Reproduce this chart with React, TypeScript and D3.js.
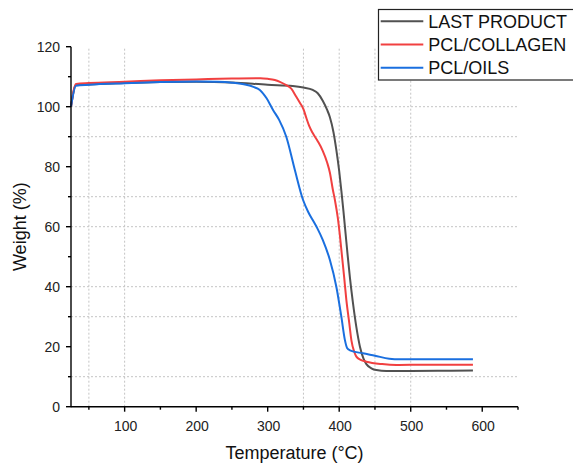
import React from "react";
import * as d3 from "d3";

const seriesNames = ["LAST PRODUCT", "PCL/COLLAGEN", "PCL/OILS"];
const seriesColors = ["#515151", "#F14040", "#1A6FDF"];

// [temperature, weight]
const lastProduct: [number, number][] = [
  [25, 100], [32, 107.2], [50, 107.4], [100, 107.9], [150, 108.2], [200, 108.3], [250, 108.1],
  [300, 107.3], [335, 106.9], [350, 106.4], [363, 105.6], [370, 104.5], [377, 102], [383, 99],
  [387, 96.5], [392, 91.5], [396, 85.6], [400, 78.5], [403, 72], [406, 65], [409, 57.5], [412, 50],
  [415, 43], [419, 35], [424, 26.5], [429, 20], [434, 16], [438, 14.2], [445, 12.8],
  [452, 12.2], [466, 11.9], [500, 11.9], [550, 12], [587, 12.1],
];
const pclCollagen: [number, number][] = [
  [25, 100], [32, 107.6], [50, 107.9], [100, 108.3], [150, 108.8], [200, 109.1], [250, 109.4],
  [290, 109.5], [300, 109.3], [310, 108.9], [317, 108.3], [326, 107.2], [333, 106], [340, 103.3],
  [345, 101.3], [350, 99.2], [354, 96.3], [358, 93.6], [363, 91.2], [370, 88.5], [377, 85.3],
  [383, 81.5], [387, 78], [391, 72.5], [394, 68.9], [398, 63], [401, 57], [404, 50], [407, 43],
  [410, 35.6], [414, 28], [417, 22.2], [421, 18.3], [424, 16.7], [430, 15.6], [438, 15],
  [460, 14.2], [480, 13.9], [520, 14], [587, 14],
];
const pclOils: [number, number][] = [
  [25, 100], [32, 107], [50, 107.3], [100, 107.8], [150, 108.2], [200, 108.4], [230, 108.3],
  [250, 108], [270, 107.3], [280, 106.6], [289, 105.6], [298.5, 102.8], [307.5, 98.9],
  [316, 95.6], [326, 90], [338, 78.9], [349.5, 68.9], [356.5, 65], [363, 62.2], [370, 59.2],
  [377, 55.6], [387, 48.9], [396, 40], [403, 30], [408, 22.2], [411, 19.6], [415, 18.8],
  [433, 17.8], [450, 17], [470, 16], [485, 15.8], [587, 15.8],
];
const seriesData = [lastProduct, pclCollagen, pclOils];

const xMajorTicks = [100, 200, 300, 400, 500, 600];
const xMinorTicks = [50, 150, 250, 350, 450, 550, 650];
const yMajorTicks = [0, 20, 40, 60, 80, 100, 120];
const yMinorTicks = [10, 30, 50, 70, 90, 110];
const xGrid = [50, 100, 350, 400, 450, 500];
const yGrid = [10, 30, 40, 60, 70, 90, 100];

const FONT = "'Liberation Sans', Arial, sans-serif";

export default function App() {
  const x = d3.scaleLinear().domain([25, 650]).range([71, 518]);
  const y = d3.scaleLinear().domain([0, 120]).range([406.7, 46.7]);
  const line = d3
    .line<[number, number]>()
    .x((d) => x(d[0]))
    .y((d) => y(d[1]))
    .curve(d3.curveMonotoneX);

  const x0 = x.range()[0];
  const x1 = x.range()[1];
  const y0 = y.range()[0];
  const y1 = y.range()[1];

  return (
    <svg
      width={573}
      height={463}
      style={{ position: "absolute", left: 0, top: 0, background: "#fff" }}
      fontFamily={FONT}
    >
      <rect x={0} y={0} width={573} height={463} fill="#fff" />
      {/* grid */}
      {xGrid.map((t) => (
        <line key={"gx" + t} x1={x(t)} x2={x(t)} y1={y0} y2={y1} stroke="#c4c4c4" strokeWidth={1} strokeDasharray="2,2" />
      ))}
      {yGrid.map((t) => (
        <line key={"gy" + t} x1={x0} x2={x1} y1={y(t)} y2={y(t)} stroke="#c4c4c4" strokeWidth={1} strokeDasharray="2,2" />
      ))}
      {/* series */}
      {seriesData.map((d, i) => (
        <path key={"s" + i} d={line(d) || ""} fill="none" stroke={seriesColors[i]} strokeWidth={2} strokeLinejoin="round" />
      ))}
      {/* axes */}
      <line x1={x0} x2={x0} y1={y0 + 0.5} y2={y1} stroke="#000" strokeWidth={1.4} />
      <line x1={x0} x2={x1} y1={y0} y2={y0} stroke="#000" strokeWidth={1.4} />
      {yMajorTicks.map((t) => (
        <g key={"ym" + t}>
          <line x1={x0 - 5} x2={x0} y1={y(t)} y2={y(t)} stroke="#000" strokeWidth={1.4} />
          <text x={x0 - 11} y={y(t)} dy="0.35em" textAnchor="end" fontSize={14} fill="#222">
            {t}
          </text>
        </g>
      ))}
      {yMinorTicks.map((t) => (
        <line key={"yn" + t} x1={x0 - 3} x2={x0} y1={y(t)} y2={y(t)} stroke="#000" strokeWidth={1.4} />
      ))}
      {xMajorTicks.map((t) => (
        <g key={"xm" + t}>
          <line x1={x(t)} x2={x(t)} y1={y0} y2={y0 + 5} stroke="#000" strokeWidth={1.4} />
          <text x={x(t) + 1} y={430.5} textAnchor="middle" fontSize={14} fill="#222">
            {t}
          </text>
        </g>
      ))}
      {xMinorTicks.map((t) => (
        <line key={"xn" + t} x1={x(t)} x2={x(t)} y1={y0} y2={y0 + 3} stroke="#000" strokeWidth={1.4} />
      ))}
      {/* axis titles */}
      <text x={(x0 + x1) / 2} y={459} textAnchor="middle" fontSize={18} fill="#111">
        Temperature (°C)
      </text>
      <text
        transform={`translate(26,${(y0 + y1) / 2}) rotate(-90)`}
        textAnchor="middle"
        fontSize={18}
        fill="#111"
      >
        Weight (%)
      </text>
      {/* legend */}
      <rect x={378.5} y={9.5} width={200} height={70.5} fill="#fff" stroke="#222" strokeWidth={1.2} />
      {seriesNames.map((n, i) => {
        const cy = 21.3 + i * 23.2;
        return (
          <g key={"lg" + i}>
            <line x1={380.7} x2={423.3} y1={cy} y2={cy} stroke={seriesColors[i]} strokeWidth={2} />
            <text x={428.3} y={cy + 6.4} fontSize={18} fill="#111">
              {n}
            </text>
          </g>
        );
      })}
    </svg>
  );
}
